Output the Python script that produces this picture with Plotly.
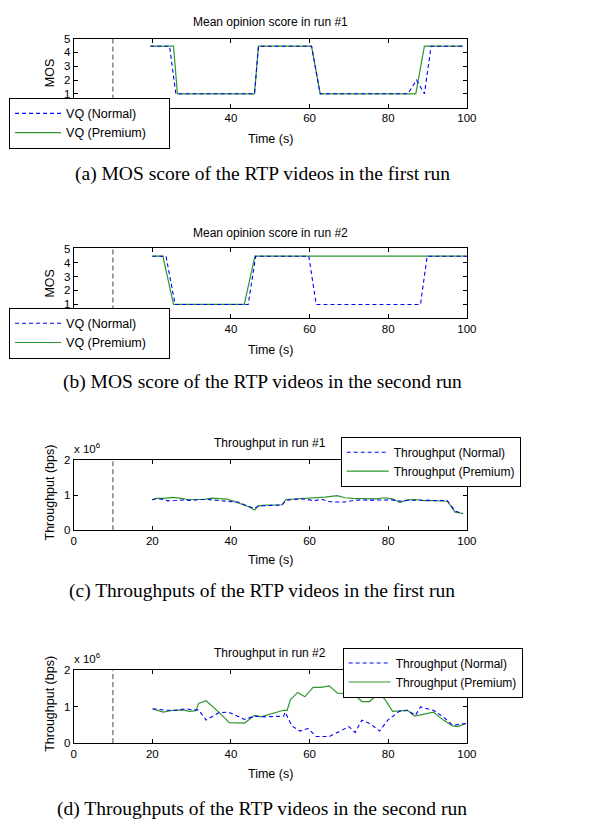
import plotly.graph_objects as go

# ---------------- data ----------------
start_time = 10  # dashed vertical marker (s)

# MOS run 1
mos1_norm_t = [19.5, 24.4, 26.0, 46.0, 47.0, 60.5, 62.7, 85.0, 87.2, 89.2, 90.9, 99.0]
mos1_norm_v = [4.45, 4.45, 1.0, 1.0, 4.45, 4.45, 1.0, 1.0, 2.0, 1.0, 4.45, 4.45]
mos1_prem_t = [19.5, 25.4, 26.4, 46.0, 47.0, 60.5, 62.7, 87.0, 89.2, 99.0]
mos1_prem_v = [4.45, 4.45, 1.0, 1.0, 4.45, 4.45, 1.0, 1.0, 4.45, 4.45]

# MOS run 2
mos2_norm_t = [20.0, 23.5, 25.8, 44.4, 46.3, 59.8, 61.7, 88.2, 89.9, 100.0]
mos2_norm_v = [4.45, 4.45, 1.0, 1.0, 4.45, 4.45, 1.0, 1.0, 4.45, 4.45]
mos2_prem_t = [20.0, 22.7, 25.4, 43.4, 46.1, 100.0]
mos2_prem_v = [4.45, 4.45, 1.0, 1.0, 4.45, 4.45]

# Throughput run 1 (x 10^6 bps)
thr1_norm_t = [20, 21, 23, 24, 26, 28, 30, 32, 34, 36, 38, 40, 42, 44, 46, 47, 49, 51, 53, 54,
               56, 58, 60, 61, 63, 65, 67, 69, 71, 73, 75, 77, 79, 81, 83, 85, 87, 89, 91, 93,
               95, 97, 99]
thr1_norm_v = [0.87, 0.90, 0.88, 0.84, 0.85, 0.87, 0.85, 0.88, 0.88, 0.86, 0.86, 0.84, 0.80,
               0.70, 0.62, 0.70, 0.70, 0.72, 0.72, 0.86, 0.89, 0.90, 0.87, 0.84, 0.89, 0.82,
               0.81, 0.81, 0.85, 0.87, 0.86, 0.86, 0.88, 0.87, 0.83, 0.86, 0.86, 0.85, 0.85,
               0.85, 0.85, 0.55, 0.47]
thr1_prem_t = [20, 21, 23, 25, 27, 29, 31, 33, 35, 37, 39, 41, 43, 45, 46, 47, 49, 51, 53, 54,
               56, 58, 60, 62, 64, 67, 69, 71, 73, 75, 77, 79, 81, 83, 85, 87, 89, 91, 93, 95,
               97, 99]
thr1_prem_v = [0.87, 0.91, 0.91, 0.94, 0.92, 0.88, 0.88, 0.88, 0.92, 0.91, 0.89, 0.82, 0.74,
               0.65, 0.58, 0.70, 0.72, 0.72, 0.73, 0.88, 0.89, 0.91, 0.92, 0.92, 0.95, 0.99,
               0.93, 0.91, 0.90, 0.90, 0.90, 0.93, 0.90, 0.80, 0.87, 0.88, 0.85, 0.85, 0.85,
               0.83, 0.52, 0.48]

# Throughput run 2 (x 10^6 bps)
thr2_norm_t = [20.1, 23.7, 26.1, 28.6, 30.3, 31.8, 33.7, 36.9, 39.4, 43.5, 46.0, 48.5, 53.4,
               53.8, 55.5, 57.6, 59.6, 61.7, 65.0, 67.5, 70.0, 71.6, 73.3, 75.3, 77.8, 79.9,
               82.8, 84.9, 86.9, 88.2, 91.5, 94.0, 96.4, 99.8]
thr2_norm_v = [0.94, 0.90, 0.90, 0.94, 0.91, 0.91, 0.63, 0.83, 0.85, 0.65, 0.74, 0.72, 0.74,
               0.85, 0.47, 0.33, 0.40, 0.18, 0.18, 0.31, 0.45, 0.29, 0.63, 0.54, 0.33, 0.63,
               0.87, 0.90, 0.76, 0.99, 0.90, 0.72, 0.49, 0.54]
thr2_prem_t = [20.1, 22.8, 25.3, 27.8, 29.4, 31.1, 31.8, 33.7, 36.9, 39.6, 43.5, 46.0, 47.6,
               53.4, 54.3, 55.1, 57.0, 58.8, 60.9, 62.9, 65.0, 67.1, 69.1, 70.8, 73.3, 75.3,
               77.4, 79.1, 81.1, 83.2, 84.9, 86.7, 88.6, 91.5, 94.0, 96.4, 97.7, 99.8]
thr2_prem_v = [0.94, 0.85, 0.90, 0.91, 0.87, 0.89, 1.09, 1.16, 0.85, 0.56, 0.55, 0.76, 0.72,
               0.90, 0.90, 1.19, 1.39, 1.27, 1.53, 1.53, 1.57, 1.37, 1.36, 1.39, 1.14, 1.14,
               1.36, 1.21, 0.87, 0.88, 0.90, 0.74, 0.78, 0.85, 0.63, 0.47, 0.45, 0.54]

titles = ["Mean opinion score in run #1", "Mean opinion score in run #2",
          "Throughput in run #1", "Throughput in run #2"]
captions = ["(a) MOS score of the RTP videos in the first run",
            "(b) MOS score of the RTP videos in the second run",
            "(c) Throughputs of the RTP videos in the first run",
            "(d) Throughputs of the RTP videos in the second run"]
ylabels = ["MOS", "MOS", "Throughput (bps)", "Throughput (bps)"]
xlabel = "Time (s)"
names_mos = ["VQ (Normal)", "VQ (Premium)"]
names_thr = ["Throughput (Normal)", "Throughput (Premium)"]

# ---------------- layout helpers ----------------
OFF = 8                      # default page body margin
W, H = 615 - 2 * OFF, 830 - 2 * OFF
def px(x):
    return (x - OFF) / W
def py(y):
    return 1 - (y - OFF) / H

BLUE = "#0000ff"
GREEN = "#2f952f"
FONT = "Liberation Sans, Arial, sans-serif"
SERIF = "Liberation Serif, Times New Roman, serif"
NBSP = "\u00a0"

x_left, x_right = 72, 474
panels = [(33, 103), (246, 317), (461, 532), (674, 748)]   # top, bottom (page px)
title_y = [16, 230, 443, 657]
xlab_y = [135, 349, 562, 779]
cap_y = [170, 382, 594, 815]
# (left, top, font size, item width, name padding)
legend_pos = [(6, 93, 12.5, 46, 5), (6, 306, 12.5, 46, 5), (345, 437, 12, 42, 0), (347, 651, 12, 42, 0)]

series = [
    (mos1_norm_t, mos1_norm_v, mos1_prem_t, mos1_prem_v, names_mos),
    (mos2_norm_t, mos2_norm_v, mos2_prem_t, mos2_prem_v, names_mos),
    (thr1_norm_t, thr1_norm_v, thr1_prem_t, thr1_prem_v, names_thr),
    (thr2_norm_t, thr2_norm_v, thr2_prem_t, thr2_prem_v, names_thr),
]

fig = go.Figure()
layout = dict(width=W, height=H, margin=dict(l=0, r=0, t=0, b=0),
              paper_bgcolor="white", plot_bgcolor="white",
              font=dict(family=FONT, size=11, color="black"),
              showlegend=True, annotations=[], shapes=[])

for i, (nt, nv, pt, pv, names) in enumerate(series):
    k = "" if i == 0 else str(i + 1)
    xa, ya = "x" + k, "y" + k
    lg = "legend" + k
    lx, ly, lfs, iw, pad = legend_pos[i]
    fig.add_trace(go.Scatter(x=pt, y=pv, mode="lines", name=names[1] + NBSP * pad,
                             line=dict(color=GREEN, width=1.2),
                             xaxis=xa, yaxis=ya, legend=lg, legendrank=2))
    fig.add_trace(go.Scatter(x=nt, y=nv, mode="lines", name=names[0],
                             line=dict(color=BLUE, width=1.1, dash="4px,3px"),
                             xaxis=xa, yaxis=ya, legend=lg, legendrank=1))
    top, bot = panels[i]
    is_mos = i < 2
    axcommon = dict(showline=True, linecolor="black", linewidth=1, mirror="ticks",
                    ticks="inside", ticklen=4, tickcolor="black", showgrid=False,
                    zeroline=False, tickfont=dict(family=FONT, size=11.5, color="black"))
    layout["xaxis" + k] = dict(domain=[px(x_left), px(x_right)], range=[0, 100],
                               dtick=20, tick0=0, anchor=ya, **axcommon)
    layout["yaxis" + k] = dict(domain=[py(bot), py(top)],
                               range=[0, 5] if is_mos else [0, 2], dtick=1, tick0=0,
                               anchor=xa, **axcommon)
    layout[lg] = dict(x=px(lx), y=py(ly), xanchor="left", yanchor="top",
                      xref="paper", yref="paper", itemwidth=iw,
                      bgcolor="white", bordercolor="black", borderwidth=1,
                      font=dict(family=FONT, size=lfs, color="black"),
                      tracegroupgap=0)
    layout["shapes"].append(dict(type="line", xref=xa, yref=ya + " domain",
                                 x0=start_time, x1=start_time, y0=0, y1=1,
                                 line=dict(color="#444444", width=1, dash="5px,3px"),
                                 layer="above"))
    xc = px((x_left + x_right) / 2)
    layout["annotations"].append(dict(text=titles[i], x=xc, y=py(title_y[i]),
                                      xref="paper", yref="paper", showarrow=False,
                                      xanchor="center", yanchor="middle",
                                      font=dict(family=FONT, size=12, color="black")))
    layout["annotations"].append(dict(text=xlabel, x=xc, y=py(xlab_y[i]),
                                      xref="paper", yref="paper", showarrow=False,
                                      xanchor="center", yanchor="middle",
                                      font=dict(family=FONT, size=12.5, color="black")))
    layout["annotations"].append(dict(text=ylabels[i], x=px(48),
                                      y=py((top + bot) / 2 - (3 if not is_mos else 0)),
                                      xref="paper", yref="paper", showarrow=False,
                                      textangle=-90, xanchor="center", yanchor="middle",
                                      font=dict(family=FONT, size=12.5, color="black")))
    layout["annotations"].append(dict(text=captions[i], x=px(265), y=py(cap_y[i]),
                                      xref="paper", yref="paper", showarrow=False,
                                      xanchor="center", yanchor="middle",
                                      font=dict(family=SERIF, size=19.5, color="black")))
    if not is_mos:
        layout["annotations"].append(dict(text="x 10<sup>6</sup>", x=px(70), y=py(top - 12),
                                          xref="paper", yref="paper", showarrow=False,
                                          xanchor="left", yanchor="middle",
                                          font=dict(family=FONT, size=11.5, color="black")))

fig.update_layout(**layout)
fig.write_html("out.html")
